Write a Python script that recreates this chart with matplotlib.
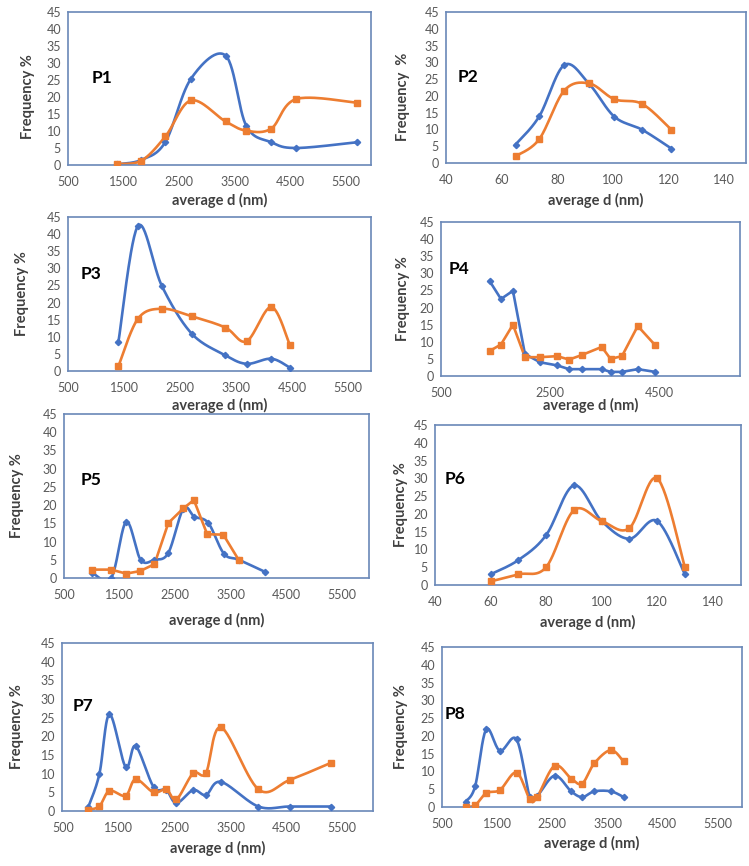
import numpy as np
import matplotlib
matplotlib.use('Agg')
import matplotlib.pyplot as plt

plt.rcParams['font.family'] = ['Lato', 'DejaVu Sans']

# ---- data ----
p1_x = [1380, 1820, 2250, 2710, 3330, 3700, 4150, 4600, 5700]
p1_blue = [0.2, 1.5, 6.8, 25.4, 32.2, 11.6, 6.7, 5.0, 6.7]
p1_orange = [0.3, 1.3, 8.4, 19.0, 12.8, 10.1, 10.7, 19.4, 18.3]

p2_x = [65, 73.5, 82.5, 91.5, 100.5, 110.5, 121]
p2_blue = [5.5, 13.9, 29.2, 23.5, 13.8, 9.9, 4.3]
p2_orange = [2.0, 7.1, 21.6, 23.7, 19.0, 17.6, 9.9]

p3_x = [1400, 1750, 2180, 2710, 3310, 3690, 4130, 4460]
p3_blue = [8.5, 42.4, 24.7, 10.9, 4.6, 2.1, 3.6, 1.0]
p3_orange = [1.4, 15.3, 18.2, 16.0, 12.7, 8.7, 18.7, 7.7]

p4_x = [1390, 1600, 1820, 2040, 2320, 2630, 2850, 3080, 3450, 3610, 3820, 4110, 4430]
p4_blue = [27.8, 22.5, 24.9, 6.4, 4.0, 3.1, 2.0, 2.0, 2.0, 1.2, 1.2, 2.0, 1.2]
p4_orange = [7.3, 9.2, 15.0, 5.5, 5.5, 5.8, 4.8, 6.1, 8.5, 5.0, 5.8, 14.6, 9.0]

p5_x_blue = [1000, 1350, 1620, 1880, 2130, 2380, 2650, 2850, 3100, 3380, 3650, 4120]
p5_blue = [1.5, 0.0, 15.4, 5.0, 5.0, 6.9, 19.0, 16.8, 15.1, 6.7, 5.0, 1.7]
p5_x_orange = [1000, 1350, 1620, 1870, 2130, 2380, 2650, 2840, 3080, 3370, 3650]
p5_orange = [2.3, 2.3, 1.2, 1.9, 3.8, 15.1, 19.1, 21.4, 12.0, 11.9, 4.9]

p6_x = [60, 70, 80, 90, 100, 110, 120, 130]
p6_blue = [3, 7, 14, 28, 18, 13, 18, 3]
p6_orange = [1, 3, 5, 21, 18, 16, 30, 5]

p7_x = [950, 1150, 1330, 1620, 1800, 2120, 2350, 2530, 2830, 3060, 3330, 4000, 4560, 5300]
p7_blue = [1.0, 9.9, 25.9, 11.8, 17.4, 6.5, 5.6, 2.1, 5.6, 4.3, 7.8, 1.2, 1.2, 1.2]
p7_orange = [0.3, 1.3, 5.4, 4.1, 8.5, 5.0, 5.8, 3.1, 10.1, 10.2, 22.4, 5.8, 8.3, 12.9]

p8_x = [930, 1100, 1300, 1550, 1850, 2090, 2220, 2540, 2840, 3040, 3260, 3560, 3790]
p8_blue = [1.5, 5.8, 21.8, 15.8, 19.0, 2.8, 3.0, 8.8, 4.4, 2.8, 4.4, 4.4, 2.8]
p8_orange = [0.1, 0.5, 3.9, 4.8, 9.7, 2.2, 2.7, 11.6, 8.0, 6.6, 12.3, 16.0, 12.8]

nm_ticks = [500, 1500, 2500, 3500, 4500, 5500]
small_ticks = [40, 60, 80, 100, 120, 140]
p4_ticks = [500, 2500, 4500]

BLUE = '#4472C4'
ORANGE = '#ED7D31'
FRAME = '#6a88b8'
TICK = '#595959'
W, H = 749, 866


def smooth(x, y, n=30):
    # Excel-like smoothed line: Catmull-Rom bezier through the points
    x = np.asarray(x, float)
    y = np.asarray(y, float)
    px = np.concatenate([[x[0]], x, [x[-1]]])
    py = np.concatenate([[y[0]], y, [y[-1]]])
    t = np.linspace(0, 1, n)
    xs, ys = [], []
    for i in range(len(x) - 1):
        p0 = np.array([px[i], py[i]])
        p1 = np.array([px[i + 1], py[i + 1]])
        p2 = np.array([px[i + 2], py[i + 2]])
        p3 = np.array([px[i + 3], py[i + 3]])
        b1 = p1 + (p2 - p0) / 6
        b2 = p2 - (p3 - p1) / 6
        pts = ((1 - t) ** 3)[:, None] * p1 + (3 * (1 - t) ** 2 * t)[:, None] * b1 \
            + (3 * (1 - t) * t ** 2)[:, None] * b2 + (t ** 3)[:, None] * p2
        xs.append(pts[:, 0])
        ys.append(pts[:, 1])
    return np.concatenate(xs), np.concatenate(ys)


def series(ax, x, y, color, marker, ms, smooth_it):
    if smooth_it:
        sx, sy = smooth(x, y)
        ax.plot(sx, sy, color=color, lw=1.9, zorder=2)
    else:
        ax.plot(x, y, color=color, lw=1.9, zorder=2)
    ax.plot(x, y, ls='none', marker=marker, ms=ms, color=color, zorder=3)


# panel layout: box (left, top, right, bottom) in pixels, xlim, ticks, label spots
panels = [
    dict(name='P1', box=(68, 12, 371, 165), xlim=(500, 5943), ticks=nm_ticks,
         lab=(0.079, 0.57), xl=35, yl=40, yc=0.45, ylab='Frequency %',
         lines=[(p1_x, p1_blue, p1_x, p1_orange, True, True)]),
    dict(name='P2', box=(446, 12, 746, 163), xlim=(40, 147.8), ticks=small_ticks,
         lab=(0.04, 0.57), xl=37, yl=43, yc=0.44, ylab='Frequency  %',
         lines=[(p2_x, p2_blue, p2_x, p2_orange, True, True)]),
    dict(name='P3', box=(68, 217, 371, 371), xlim=(500, 5911), ticks=nm_ticks,
         lab=(0.043, 0.63), xl=34, yl=46, yc=0.5, ylab='Frequency %',
         lines=[(p3_x, p3_blue, p3_x, p3_orange, True, True)]),
    dict(name='P4', box=(441, 222, 740, 376), xlim=(500, 5986), ticks=p4_ticks,
         lab=(0.027, 0.695), xl=29, yl=38, yc=0.5, ylab='Frequency %',
         lines=[(p4_x, p4_blue, p4_x, p4_orange, False, False)]),
    dict(name='P5', box=(64, 414, 369, 578), xlim=(500, 5995), ticks=nm_ticks,
         lab=(0.056, 0.60), xl=42, yl=47, yc=0.5, ylab='Frequency %',
         lines=[(p5_x_blue, p5_blue, p5_x_orange, p5_orange, True, False)]),
    dict(name='P6', box=(435, 425, 741, 585), xlim=(40, 150.2), ticks=small_ticks,
         lab=(0.03, 0.66), xl=37, yl=34, yc=0.5, ylab='Frequency %',
         lines=[(p6_x, p6_blue, p6_x, p6_orange, True, True)]),
    dict(name='P7', box=(62, 643, 373, 811), xlim=(480, 6054), ticks=nm_ticks,
         lab=(0.034, 0.625), xl=37, yl=45, yc=0.5, ylab='Frequency %',
         lines=[(p7_x, p7_blue, p7_x, p7_orange, True, True)]),
    dict(name='P8', box=(442, 647, 742, 807), xlim=(500, 5935), ticks=nm_ticks,
         lab=(0.01, 0.58), xl=36, yl=41, yc=0.5, ylab='Frequency %',
         lines=[(p8_x, p8_blue, p8_x, p8_orange, True, True)]),
]

fig = plt.figure(figsize=(W / 100, H / 100), dpi=100)

for p in panels:
    L, T, R, B = p['box']
    ax = fig.add_axes([L / W, 1 - B / H, (R - L) / W, (B - T) / H])
    for bx, by, ox, oy, sb, so in p['lines']:
        series(ax, bx, by, BLUE, 'D', 3.2, sb)
        series(ax, ox, oy, ORANGE, 's', 4.2, so)
    ax.set_xlim(*p['xlim'])
    ax.set_ylim(0, 45)
    ax.set_yticks(range(0, 46, 5))
    ax.set_xticks(p['ticks'])
    ax.tick_params(length=0, labelsize=9, colors=TICK)
    ax.tick_params(axis='x', pad=8)
    ax.tick_params(axis='y', pad=5)
    for s in ax.spines.values():
        s.set_color(FRAME)
        s.set_linewidth(1.2)
    hpx = B - T
    wpx = R - L
    ax.set_xlabel('average d (nm)', fontsize=10.5, fontweight='bold', color='#404040', va='center')
    ax.xaxis.set_label_coords(0.5, -p['xl'] / hpx)
    ax.set_ylabel(p['ylab'], fontsize=10.5, fontweight='bold', color='#404040', va='center')
    ax.yaxis.set_label_coords(-p['yl'] / wpx, p['yc'])
    ax.text(p['lab'][0], p['lab'][1], p['name'], transform=ax.transAxes,
            fontsize=12.5, fontweight='bold', color='black', va='center', ha='left')

fig.savefig('out.png', dpi=100)
